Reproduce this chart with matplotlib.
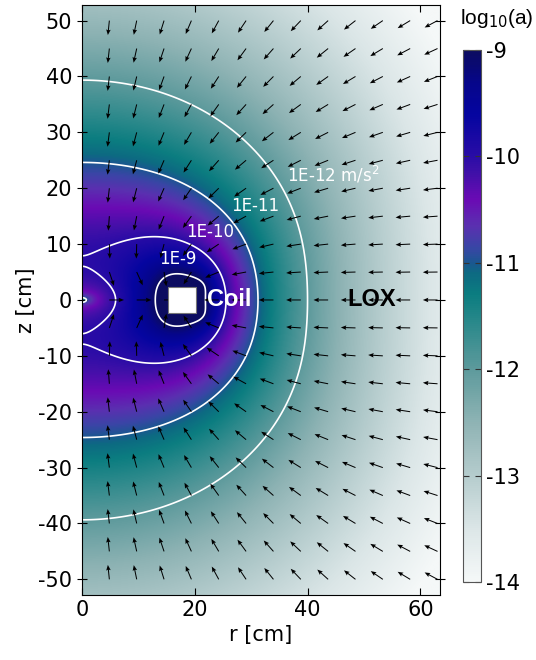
import numpy as np
import matplotlib
matplotlib.use("Agg")
import matplotlib.pyplot as plt
from matplotlib.colors import LinearSegmentedColormap
from matplotlib.patches import Rectangle

plt.rcParams['axes.unicode_minus'] = False
plt.rcParams['font.family'] = ['DejaVu Sans']

# coil square as drawn, and the winding used for the field model [cm]
coil_r = (15.2, 20.2)
coil_z = (-2.4, 2.4)
winding_r = (15.8, 20.8)
winding_z = (-2.4, 2.4)
r_max = 63.5
z_max = 52.8

# calibration: on the axis the field just reaches 1E-10 (contour touches at z ~ 7 cm)
axis_peak_level = -9.993

# contour levels and their labels
levels = [-12, -11, -10, -9]
level_text = ['1E-12 m/s$^2$', '1E-11', '1E-10', '1E-9']
level_r = [44.5, 30.7, 22.7, 17.0]
level_z = [22.3, 16.9, 12.1, 7.3]

cbar_ticks = [-9, -10, -11, -12, -13, -14]

# colour scale stops (log10 a -> colour)
cmap_vals = [-14, -13.5, -13, -12.5, -12, -11.6, -11.3, -11.1, -11.0,
             -10.85, -10.65, -10.4, -10.15, -10.0, -9.6, -9.3, -9.0]
cmap_cols = ['#f5f8f8', '#dbe6e7', '#b5cccd', '#8eb3b4', '#5d9a9c', '#2e8a8c',
             '#0b7d80', '#0d6a82', '#1a5790', '#3a45a6', '#5a30b0', '#6a0ab4',
             '#4010a8', '#2a0ca6', '#0505a0', '#06068a', '#0c0c60']

# arrow grid [cm]
arrow_r = np.arange(4.85, 64.0, 4.85)
arrow_z = np.arange(-50.0, 50.1, 5.0)


def ellip_ke(m):
    a = np.ones_like(m)
    b = np.sqrt(1.0 - m)
    s = 0.5 * m
    p = 0.5
    for _ in range(14):
        c = (a - b) / 2
        a, b = (a + b) / 2, np.sqrt(a * b)
        p *= 2
        s = s + p * c * c
    K = np.pi / (2 * a)
    return K, K * (1 - s)


def b_squared(r, z):
    # coil field as a bundle of circular filaments
    fr = np.linspace(winding_r[0], winding_r[1], 13)[1::2]
    fz = np.linspace(winding_z[0], winding_z[1], 13)[1::2]
    br = np.zeros_like(r)
    bz = np.zeros_like(r)
    rr = np.maximum(r, 1e-6)
    with np.errstate(all='ignore'):
        for a in fr:
            for z0 in fz:
                dz = z - z0
                q = (a + rr) ** 2 + dz ** 2
                m = np.clip(4 * a * rr / q, 0, 1 - 1e-12)
                K, E = ellip_ke(m)
                d = (a - rr) ** 2 + dz ** 2
                sq = np.sqrt(q)
                bz += (K + (a * a - rr * rr - dz * dz) / d * E) / sq
                br += dz / (rr * sq) * (-K + (a * a + rr * rr + dz * dz) / d * E)
    return br ** 2 + bz ** 2


def grad_b2(r, z, h=0.01):
    lo = np.maximum(r - h, 0)
    gr = (b_squared(r + h, z) - b_squared(lo, z)) / (r + h - lo)
    gz = (b_squared(r, z + h) - b_squared(r, z - h)) / (2 * h)
    return gr, gz


nr, nz = 340, 560
dr, dz = r_max / nr, 2 * z_max / nz
rc = (np.arange(nr) + 0.5) * dr
zc = -z_max + (np.arange(nz) + 0.5) * dz
R, Z = np.meshgrid(rc, zc)
B2 = b_squared(R, Z)
gz_, gr_ = np.gradient(B2, dz, dr)
with np.errstate(all='ignore'):
    la = np.log10(np.hypot(gr_, gz_))

# shift so that the axis maximum sits at the 1E-10 level
on_axis = (zc > 2) & (zc < 20)
la = la + (axis_peak_level - np.nanmax(la[on_axis, 0]))

inside = ((R > min(coil_r[0], winding_r[0]) - 0.3) & (R < max(coil_r[1], winding_r[1]) + 0.3)
          & (Z > coil_z[0] - 0.3) & (Z < coil_z[1] + 0.3))
la[inside] = -8.5
la = np.nan_to_num(la, nan=-8.5, posinf=-8.5, neginf=-14)

cmap = LinearSegmentedColormap.from_list(
    'lox', list(zip([(v + 14) / 5 for v in cmap_vals], cmap_cols)))

fig = plt.figure(figsize=(5.36, 6.6), dpi=100)
ax = fig.add_axes([0.153, 0.0985, 0.668, 0.894])
im = ax.imshow(la, origin='lower', extent=[0, r_max, -z_max, z_max], cmap=cmap,
               vmin=-14, vmax=-9, aspect='auto', interpolation='bilinear', zorder=0)
ax.contour(R, Z, la, levels=levels, colors='white', linewidths=1.2,
           linestyles='solid', zorder=2)

AR, AZ = np.meshgrid(arrow_r, arrow_z)
keep = ~((AR > coil_r[0]) & (AR < coil_r[1]) & (AZ > coil_z[0]) & (AZ < coil_z[1]))
ugr, ugz = grad_b2(AR[keep], AZ[keep])
n = np.hypot(ugr, ugz)
L = 2.6
ax.quiver(AR[keep], AZ[keep], L * ugr / n, L * ugz / n, angles='xy', scale_units='xy',
          scale=1, pivot='tail', width=0.0028, headwidth=4.5, headlength=5.5,
          headaxislength=4.8, color='black', zorder=3)

ax.add_patch(Rectangle((coil_r[0], coil_z[0]), coil_r[1] - coil_r[0], coil_z[1] - coil_z[0],
                       facecolor='white', edgecolor='#777777', lw=0.8, zorder=4))

for txt, x, y in zip(level_text, level_r, level_z):
    ax.text(x, y, txt, color='white', fontsize=12, ha='center', va='center', zorder=5)
ax.text(22.1, 0, 'Coil', color='white', fontsize=17, fontweight='bold',
        family='Liberation Sans', ha='left', va='center', zorder=5)
ax.text(51.4, 0, 'LOX', color='black', fontsize=17, fontweight='bold',
        family='Liberation Sans', ha='center', va='center', zorder=5)

ax.set_xlim(0, r_max)
ax.set_ylim(-z_max, z_max)
ax.set_xticks([0, 20, 40, 60])
ax.set_yticks(np.arange(-50, 51, 10))
ax.tick_params(direction='in', length=5, labelsize=15, top=True, right=True)
ax.tick_params(axis='y', direction='inout', length=7)
ax.set_xlabel('r [cm]', fontsize=15)
ax.set_ylabel('z [cm]', fontsize=15, labelpad=2)

cax = fig.add_axes([0.8638, 0.1182, 0.0336, 0.806])
cb = fig.colorbar(im, cax=cax, ticks=cbar_ticks)
cb.outline.set_edgecolor('#555555')
cb.outline.set_linewidth(0.8)
cax.tick_params(direction='in', length=4, labelsize=15, left=True, right=True, color='#333333')
fig.text(0.858, 0.99, r'log$_{10}$(a)', fontsize=15, family='Liberation Sans',
         ha='left', va='top')

fig.savefig('out.png', dpi=100)
